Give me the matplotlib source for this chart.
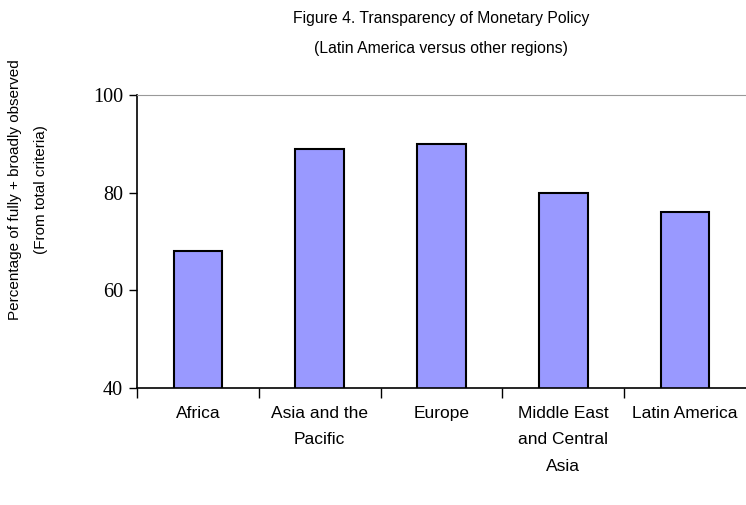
import matplotlib
matplotlib.use("Agg")
import matplotlib.pyplot as plt
import numpy as np

regions = ["Africa", "Asia and the\nPacific", "Europe", "Middle East\nand Central\nAsia", "Latin America"]
values = [68, 89, 90, 80, 76]
y_ticks = [40, 60, 80, 100]

fig = plt.figure(figsize=(7.46, 5.05), dpi=100)
ax = fig.add_axes([137 / 746, 1 - 388 / 505, 609 / 746, (388 - 95) / 505])

x = np.arange(len(regions))
ax.bar(x, values, width=0.4, color="#9999FF", edgecolor="black", linewidth=1.5)

ax.set_xlim(-0.5, len(regions) - 0.5)
ax.set_ylim(40, 100)
ax.set_yticks(y_ticks)
ax.set_yticklabels([str(v) for v in y_ticks], fontfamily="Liberation Serif", fontsize=14.5)
ax.tick_params(axis="y", direction="out", length=6, width=1, pad=4)

ax.set_xticks(x)
ax.set_xticklabels(regions, fontfamily="Liberation Sans", fontsize=12.5, linespacing=1.95, va="top")
ax.tick_params(axis="x", which="major", length=0, pad=13)
ax.set_xticks(np.arange(-0.5, len(regions) - 0.5, 1), minor=True)
ax.tick_params(axis="x", which="minor", direction="out", length=7, width=1)

ax.spines["right"].set_visible(False)
ax.spines["top"].set_color("#999999")
ax.spines["left"].set_linewidth(1.2)
ax.spines["bottom"].set_linewidth(1.2)

fig.text(441 / 746, 1 - 19 / 505, "Figure 4. Transparency of Monetary Policy",
         ha="center", va="center", fontfamily="Liberation Sans", fontsize=11.3)
fig.text(441 / 746, 1 - 49 / 505, "(Latin America versus other regions)",
         ha="center", va="center", fontfamily="Liberation Sans", fontsize=11.3)

fig.text(28 / 746, 1 - 190 / 505, "Percentage of fully + broadly observed\n(From total criteria)",
         ha="center", va="center", rotation=90, fontfamily="Liberation Sans",
         fontsize=11, linespacing=2.1)

fig.savefig("out.png", dpi=100)
